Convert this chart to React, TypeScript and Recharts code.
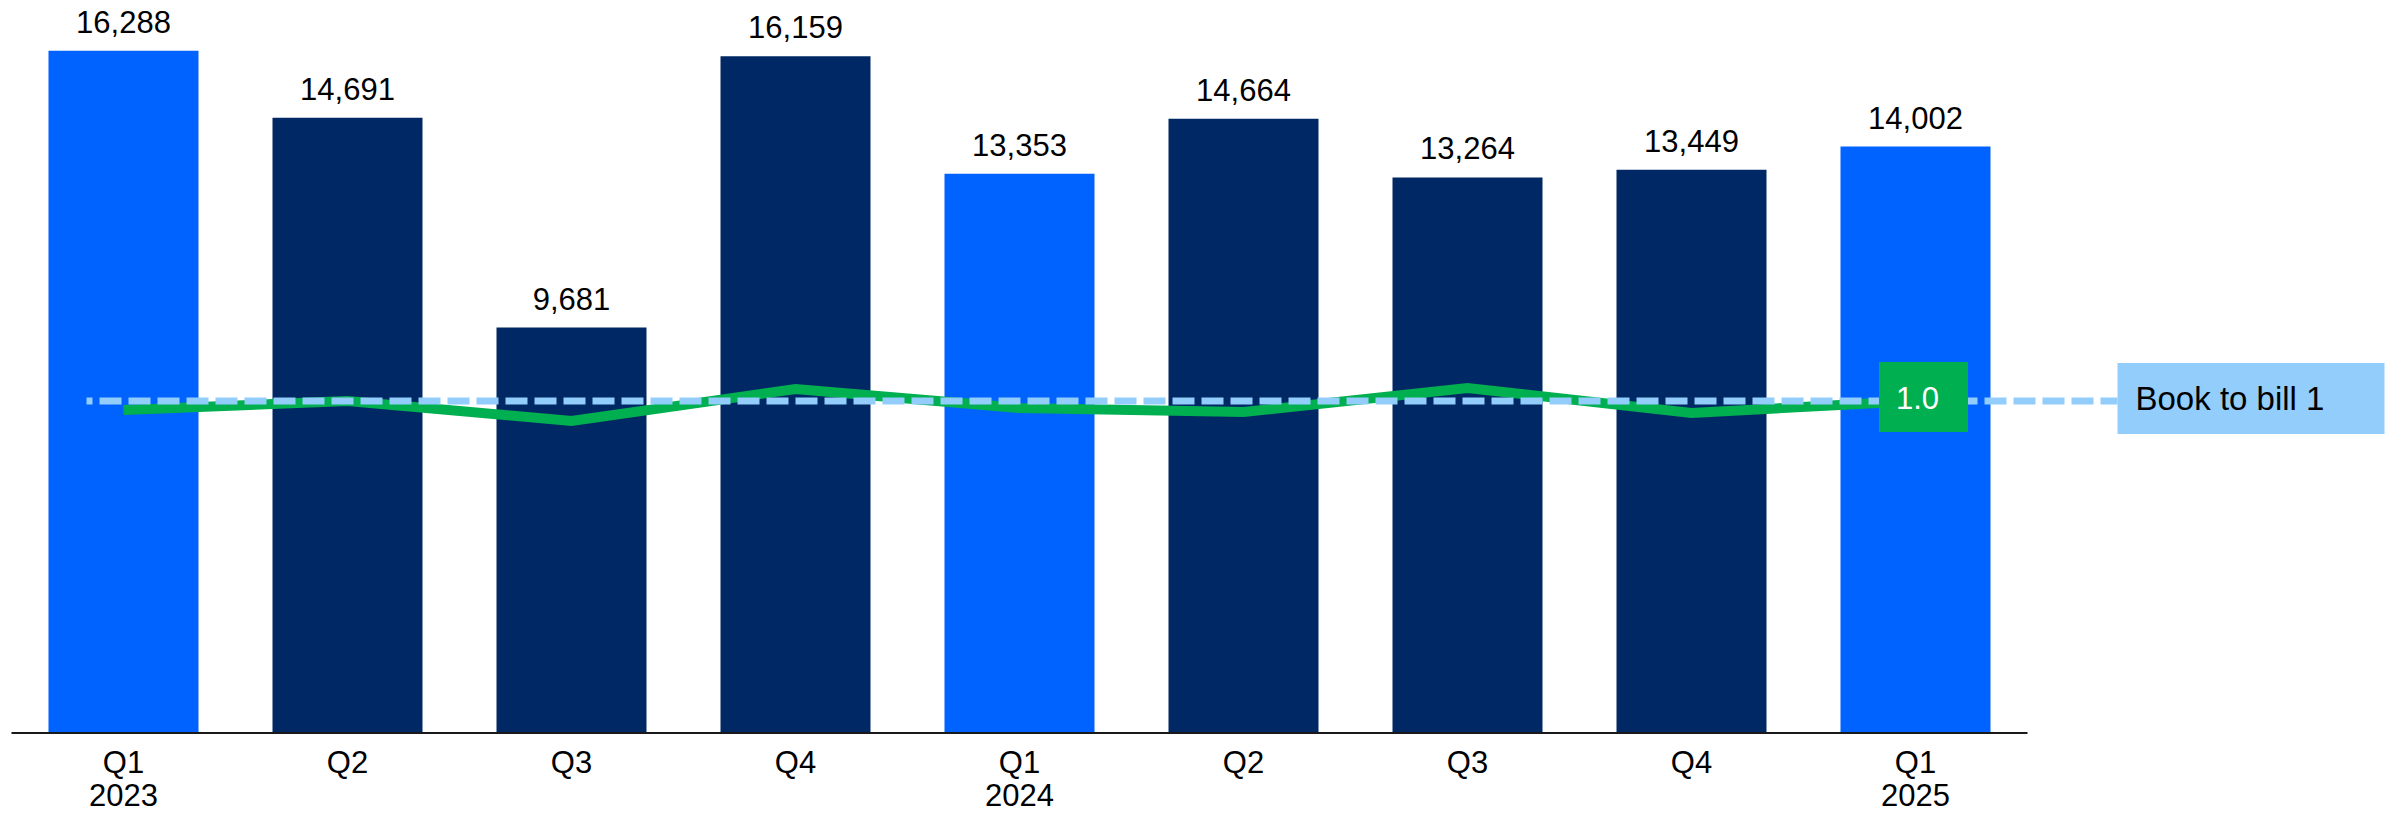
import { ComposedChart, Bar, Line, XAxis, YAxis, Cell, LabelList, ReferenceLine } from "recharts"

const quarters = ["Q1", "Q2", "Q3", "Q4", "Q1", "Q2", "Q3", "Q4", "Q1"]
const years = ["2023", "", "", "", "2024", "", "", "", "2025"]
const orderIntake = [16288, 14691, 9681, 16159, 13353, 14664, 13264, 13449, 14002]
const bookToBill = [0.955, 1.0, 0.9, 1.06, 0.965, 0.945, 1.065, 0.94, 1.0]

const FONT = "'Liberation Sans', Arial, sans-serif"
const BRIGHT = "#0062FF"
const NAVY = "#002864"
const GREEN = "#00AF50"
const SKY = "#92CDFB"

const data = quarters.map((q, i) => ({
  q,
  year: years[i],
  orders: orderIntake[i],
  btb: bookToBill[i],
}))

// eslint-disable-next-line @typescript-eslint/no-explicit-any
function QuarterTick({ x, y, payload }: any) {
  const year = years[payload.index]
  return (
    <text x={x} y={y} textAnchor="middle" fontSize={31} fontFamily={FONT} fill="#000">
      <tspan x={x} dy={40}>{payload.value}</tspan>
      {year && (
        <tspan x={x} dy={33}>
          {year}
        </tspan>
      )}
    </text>
  )
}

// green tag on the latest quarter
// eslint-disable-next-line @typescript-eslint/no-explicit-any
function LastRatioTag(props: any) {
  const { x, y, index, value } = props
  if (index !== bookToBill.length - 1) return null
  return (
    <g>
      <rect x={x - 36.5} y={y - 39} width={89} height={70} fill={GREEN} />
      <text x={x + 2} y={y + 8} textAnchor="middle" fontSize={31} fontFamily={FONT} fill="#fff">
        {Number(value).toFixed(1)}
      </text>
    </g>
  )
}

// dashed 1.0 guide running out to its legend box
// eslint-disable-next-line @typescript-eslint/no-explicit-any
function BookToBillGuide(props: any) {
  const { x1, x2, y1 } = props
  const start = Math.min(x1, x2) + 75
  const end = Math.max(x1, x2) + 90
  return (
    <g>
      <line
        x1={start}
        x2={end}
        y1={y1}
        y2={y1}
        stroke={SKY}
        strokeWidth={7}
        strokeDasharray="22 7"
        strokeDashoffset={16}
      />
      <rect x={end} y={y1 - 38} width={267} height={71} fill={SKY} />
      <text x={end + 18} y={y1 + 9} fontSize={33} fontFamily={FONT} fill="#000">
        Book to bill 1
      </text>
    </g>
  )
}

export default function App() {
  return (
    <div style={{ position: "absolute", left: 0, top: 0, background: "#fff" }}>
      <ComposedChart
        width={2392}
        height={813}
        data={data}
        margin={{ top: 21, right: 364.5, bottom: 0, left: 11.5 }}
      >
        <XAxis
          dataKey="q"
          interval={0}
          tickLine={false}
          tickSize={0}
          tickMargin={0}
          height={80}
          axisLine={{ stroke: "#1a1a1a", strokeWidth: 2 }}
          tick={<QuarterTick />}
        />
        <YAxis yAxisId="orders" hide domain={[0, 17000]} />
        <YAxis yAxisId="ratio" hide orientation="right" domain={[-0.66, 2.9]} />
        <Bar yAxisId="orders" dataKey="orders" barSize={150} isAnimationActive={false}>
          {data.map((d, i) => (
            <Cell key={i} fill={d.q === "Q1" ? BRIGHT : NAVY} />
          ))}
          <LabelList
            dataKey="orders"
            position="top"
            offset={18}
            fontSize={31}
            fontFamily={FONT}
            fill="#000"
            formatter={(v: unknown) => Number(v).toLocaleString("en-US")}
          />
        </Bar>
        <Line
          yAxisId="ratio"
          dataKey="btb"
          type="linear"
          stroke={GREEN}
          strokeWidth={10}
          dot={false}
          activeDot={false}
          isAnimationActive={false}
          label={LastRatioTag}
        />
        <ReferenceLine yAxisId="ratio" y={1} ifOverflow="visible" shape={BookToBillGuide} />
      </ComposedChart>
    </div>
  )
}
